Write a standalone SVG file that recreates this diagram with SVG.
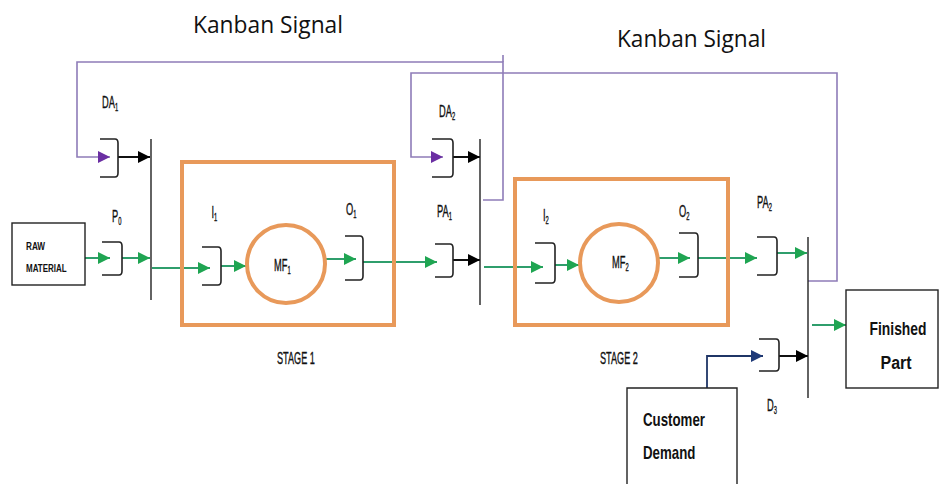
<svg xmlns="http://www.w3.org/2000/svg" width="941" height="484" viewBox="0 0 941 484">
<style>
.bg{fill:#ffffff}
.stage{fill:none;stroke:#e8995a;stroke-width:4}
.buf{fill:none;stroke:#222;stroke-width:1.6}
.bar{stroke:#222;stroke-width:1.4}
.box{fill:#fff;stroke:#222;stroke-width:1.4}
.g{fill:none;stroke:#2f9e6c;stroke-width:2;marker-end:url(#mg)}
.k{fill:none;stroke:#111;stroke-width:2;marker-end:url(#mk)}
.p{fill:none;stroke:#8e7cb8;stroke-width:1.6;marker-end:url(#mp)}
.pl{fill:none;stroke:#8e7cb8;stroke-width:1.6}
.n{fill:none;stroke:#1f3566;stroke-width:1.8;marker-end:url(#mn)}
.lab{font-family:"Liberation Sans",Arial,sans-serif;font-size:16px;fill:#111;stroke:#111;stroke-width:0.35}
.sb{font-size:10px}
.big{font-family:"Open Sans","Liberation Sans",sans-serif;font-size:23px;fill:#111}
.bold{font-family:"Liberation Sans",Arial,sans-serif;font-weight:bold;font-size:19px;fill:#111}
.small{font-family:"Liberation Sans",Arial,sans-serif;font-weight:bold;font-size:10px;fill:#111}
</style>
<defs>
<marker id="mg" markerUnits="userSpaceOnUse" markerWidth="12" markerHeight="12" viewBox="0 0 10 10" refX="10" refY="5" orient="auto"><path d="M0,0 L10,5 L0,10 z" fill="#1fa552"/></marker>
<marker id="mk" markerUnits="userSpaceOnUse" markerWidth="12" markerHeight="12" viewBox="0 0 10 10" refX="10" refY="5" orient="auto"><path d="M0,0 L10,5 L0,10 z" fill="#000"/></marker>
<marker id="mp" markerUnits="userSpaceOnUse" markerWidth="12" markerHeight="12" viewBox="0 0 10 10" refX="10" refY="5" orient="auto"><path d="M0,0 L10,5 L0,10 z" fill="#6b2fa3"/></marker>
<marker id="mn" markerUnits="userSpaceOnUse" markerWidth="12" markerHeight="12" viewBox="0 0 10 10" refX="10" refY="5" orient="auto"><path d="M0,0 L10,5 L0,10 z" fill="#1f3a78"/></marker>
</defs>
<rect class="bg" x="0" y="0" width="941" height="484"/>

<text class="big" x="193" y="33" textLength="150" lengthAdjust="spacingAndGlyphs">Kanban Signal</text>
<text class="big" x="617" y="47" textLength="149" lengthAdjust="spacingAndGlyphs">Kanban Signal</text>

<g id="connectors">
  <path class="pl" d="M503,55 V62"/>
  <path class="p" d="M483,200 H503 V62 H77 V157 H110"/>
  <path class="p" d="M808,281 H837 V73 H411 V157 H443"/>
  <path class="k" d="M118,157 H150"/>
  <path class="k" d="M453,157 H480"/>
  <path class="g" d="M85,258 H110"/>
  <path class="g" d="M122,258 H150"/>
  <path class="g" d="M152,268 H210"/>
  <path class="g" d="M221,266 H246"/>
  <path class="g" d="M326,259 H356"/>
  <path class="g" d="M363,262 H437"/>
  <path class="k" d="M453,260 H480"/>
  <path class="g" d="M484,267 H543"/>
  <path class="g" d="M555,265 H579"/>
  <path class="g" d="M659,258 H690"/>
  <path class="g" d="M698,258 H757"/>
  <path class="g" d="M777,253 H807"/>
  <path class="g" d="M812,325 H846"/>
  <path class="n" d="M707,388 V356 H763"/>
  <path class="k" d="M779,356 H808"/>
</g>

<g id="bars">
  <line class="bar" x1="151" y1="139" x2="151" y2="300"/>
  <line class="bar" x1="480" y1="139" x2="480" y2="305"/>
  <line class="bar" x1="808" y1="237" x2="808" y2="398"/>
</g>

<g id="raw-material">
  <rect class="box" x="12" y="223" width="73" height="62"/>
  <text class="small" transform="translate(26,250) scale(0.82,1)">RAW</text>
  <text class="small" transform="translate(26,272) scale(0.8,1)">MATERIAL</text>
</g>

<g id="buffer-DA1">
  <path class="buf" d="M100,139 H115 Q118,139 118,143 V173 Q118,177 115,177 H100"/>
  <text class="lab" transform="translate(102,108) scale(0.58,1)">DA<tspan class="sb" dy="3">1</tspan></text>
</g>
<g id="buffer-P0">
  <path class="buf" d="M102,242 H119 Q122,242 122,246 V271 Q122,275 119,275 H102"/>
  <text class="lab" transform="translate(112,222) scale(0.58,1)">P<tspan class="sb" dy="3">0</tspan></text>
</g>

<g id="stage1">
  <rect class="stage" x="182" y="162" width="212" height="163"/>
  <text class="lab" transform="translate(277,364) scale(0.57,1)">STAGE 1</text>
</g>
<g id="buffer-I1">
  <path class="buf" d="M202,247 H218 Q221,247 221,251 V281 Q221,285 218,285 H202"/>
  <text class="lab" transform="translate(211.5,218) scale(0.58,1)">I<tspan class="sb" dy="3">1</tspan></text>
</g>
<g id="MF1">
  <circle class="stage" cx="286" cy="264" r="39"/>
  <text class="lab" transform="translate(274,271) scale(0.58,1)">MF<tspan class="sb" dy="3">1</tspan></text>
</g>
<g id="buffer-O1">
  <path class="buf" d="M345,236 H360 Q363,236 363,240 V276 Q363,280 360,280 H345"/>
  <text class="lab" transform="translate(346,215) scale(0.58,1)">O<tspan class="sb" dy="3">1</tspan></text>
</g>

<g id="buffer-DA2">
  <path class="buf" d="M432,139 H450 Q453,139 453,143 V173 Q453,177 450,177 H432"/>
  <text class="lab" transform="translate(439,117) scale(0.58,1)">DA<tspan class="sb" dy="3">2</tspan></text>
</g>
<g id="buffer-PA1">
  <path class="buf" d="M435,244 H450 Q453,244 453,248 V273 Q453,277 450,277 H435"/>
  <text class="lab" transform="translate(437,217) scale(0.58,1)">PA<tspan class="sb" dy="3">1</tspan></text>
</g>

<g id="stage2">
  <rect class="stage" x="515" y="179" width="213" height="146"/>
  <text class="lab" transform="translate(600,364) scale(0.57,1)">STAGE 2</text>
</g>
<g id="buffer-I2">
  <path class="buf" d="M535,243 H552 Q555,243 555,247 V279 Q555,283 552,283 H535"/>
  <text class="lab" transform="translate(543,221) scale(0.58,1)">I<tspan class="sb" dy="3">2</tspan></text>
</g>
<g id="MF2">
  <circle class="stage" cx="619" cy="263" r="39"/>
  <text class="lab" transform="translate(612,268) scale(0.58,1)">MF<tspan class="sb" dy="3">2</tspan></text>
</g>
<g id="buffer-O2">
  <path class="buf" d="M679,233 H695 Q698,233 698,237 V273 Q698,277 695,277 H679"/>
  <text class="lab" transform="translate(679,217) scale(0.58,1)">O<tspan class="sb" dy="3">2</tspan></text>
</g>

<g id="buffer-PA2">
  <path class="buf" d="M757,237 H774 Q777,237 777,241 V271 Q777,275 774,275 H757"/>
  <text class="lab" transform="translate(757,208) scale(0.58,1)">PA<tspan class="sb" dy="3">2</tspan></text>
</g>
<g id="buffer-D3">
  <path class="buf" d="M759,339 H776 Q779,339 779,343 V367 Q779,371 776,371 H759"/>
  <text class="lab" transform="translate(767,411) scale(0.58,1)">D<tspan class="sb" dy="3">3</tspan></text>
</g>

<g id="finished-part">
  <rect class="box" x="846" y="290" width="92" height="98"/>
  <text class="bold" text-anchor="middle" transform="translate(898,335) scale(0.73,1)">Finished</text>
  <text class="bold" text-anchor="middle" transform="translate(896,369) scale(0.84,1)">Part</text>
</g>

<g id="customer-demand">
  <path class="box" d="M627,486 V388 H737 V486"/>
  <text class="bold" transform="translate(643,426) scale(0.7,1)">Customer</text>
  <text class="bold" transform="translate(643,459) scale(0.7,1)">Demand</text>
</g>
</svg>
